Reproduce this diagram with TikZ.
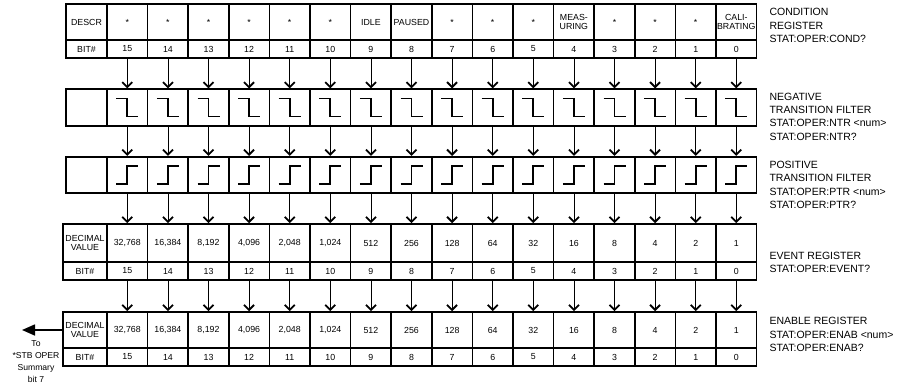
\documentclass[tikz,border=0pt]{standalone}
\usepackage{fontspec}
\setmainfont{Liberation Sans}
\usepackage{tikz}
\usetikzlibrary{arrows.meta,calc,positioning}
\tikzset{
    regcell/.style={draw=black,line width=1.7pt,inner sep=0pt,minimum width=40.6pt,align=center,font=\fontsize{8.8}{9.6}\selectfont},
    toprow/.style={regcell,minimum height=36pt},
    bitrow/.style={regcell,minimum height=18pt},
    filtcell/.style={regcell,minimum height=36.5pt},
    flow/.style={line width=0.8pt,-{Straight Barb[length=5pt,width=10pt,line width=1.8pt]}},
    edgeline/.style={line width=1.8pt,line join=miter},
    reglabel/.style={anchor=west,align=left,font=\fontsize{10.5}{13.3}\selectfont},
    outarrow/.style={line width=1.6pt,-{Triangle[length=13pt,width=11pt]}},
}

\begin{document}
\begin{tikzpicture}[x=1pt,y=-1pt]
  \useasboundingbox (0,0) rectangle (910,385);
  % condition register
  \node[toprow,minimum width=41pt] (cd0) at (86.5,22) {DESCR};
  \node[bitrow,minimum width=41pt] (cb0) at (86.5,49) {BIT\#};
  \foreach \t [count=\i] in {*,*,*,*,*,*,IDLE,PAUSED,*,*,*,{MEAS-\\URING},*,*,*,{CALI-\\BRATING}}{
    \pgfmathtruncatemacro{\b}{16-\i}
    \node[toprow] (cd\i) at ({107+40.6*(\i-0.5)},22) {\t};
    \node[bitrow] (cb\i) at ({107+40.6*(\i-0.5)},49) {\b};
  }
  % transition filters
  \node[filtcell,minimum width=41pt] (nt0) at (86.5,107.5) {};
  \node[filtcell,minimum width=41pt] (pt0) at (86.5,175) {};
  \foreach \i in {1,...,16}{
    \node[filtcell] (nt\i) at ({107+40.6*(\i-0.5)},107.5) {};
    \node[filtcell] (pt\i) at ({107+40.6*(\i-0.5)},175) {};
    \draw[edgeline] ([shift={(-11,-9)}]nt\i.center) -- ++(11,0) -- ++(0,18) -- ++(11,0);
    \draw[edgeline] ([shift={(-11,9)}]pt\i.center) -- ++(11,0) -- ++(0,-18) -- ++(11,0);
  }
  % event and enable registers
  \node[regcell,minimum width=44pt,minimum height=38pt] (ev0) at (85,243) {DECIMAL\\VALUE};
  \node[bitrow,minimum width=44pt] (eb0) at (85,271) {BIT\#};
  \node[toprow,minimum width=44pt] (en0) at (85,330) {DECIMAL\\VALUE};
  \node[bitrow,minimum width=44pt] (nb0) at (85,357) {BIT\#};
  \foreach \v [count=\i] in {{32,768},{16,384},{8,192},{4,096},{2,048},{1,024},512,256,128,64,32,16,8,4,2,1}{
    \pgfmathtruncatemacro{\b}{16-\i}
    \node[regcell,minimum height=38pt] (ev\i) at ({107+40.6*(\i-0.5)},243) {\v};
    \node[bitrow] (eb\i) at ({107+40.6*(\i-0.5)},271) {\b};
    \node[toprow] (en\i) at ({107+40.6*(\i-0.5)},330) {\v};
    \node[bitrow] (nb\i) at ({107+40.6*(\i-0.5)},357) {\b};
  }
  % bit flow
  \foreach \i in {1,...,16}{
    \draw[flow] (cb\i.south) -- (nt\i.north);
    \draw[flow] (nt\i.south) -- (pt\i.north);
    \draw[flow] (pt\i.south) -- (ev\i.north);
    \draw[flow] (eb\i.south) -- (en\i.north);
  }
  % labels
  \node[reglabel] (condlbl) at (766,25.5) {CONDITION\\REGISTER\\STAT:OPER:COND?};
  \node[reglabel] (ntrlbl) at (766,116.5) {NEGATIVE\\TRANSITION FILTER\\STAT:OPER:NTR <num>\\STAT:OPER:NTR?};
  \node[reglabel] (ptrlbl) at (766,185) {POSITIVE\\TRANSITION FILTER\\STAT:OPER:PTR <num>\\STAT:OPER:PTR?};
  \node[reglabel] (evtlbl) at (766,262.5) {EVENT REGISTER\\STAT:OPER:EVENT?};
  \node[reglabel] (enalbl) at (766,334.5) {ENABLE REGISTER\\STAT:OPER:ENAB <num>\\STAT:OPER:ENAB?};
  % summary output
  \coordinate (tip) at (22,330);
  \draw[outarrow] (en0.west) -- (tip);
  \node[align=center,font=\fontsize{8.6}{12}\selectfont] (summ) at (36,362) {To\\*STB OPER\\Summary\\bit 7};
\end{tikzpicture}
\end{document}
